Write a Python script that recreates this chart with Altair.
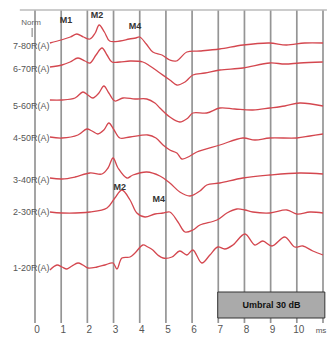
import altair as alt
import pandas as pd

# ---- data ----
# time in ms, amplitude in arbitrary display units (traces stacked by intensity)
T80 = [0.57,1.0,1.35,1.6,1.85,2.1,2.3,2.45,2.65,2.85,3.25,3.6,3.85,4.0,4.25,4.5,4.85,5.15,5.4,5.8,6.3,7.05,7.95,8.95,9.6,10.3,11.0]
A80 = [280,283,286,289,286,284,290,298,291,282,282,284,285,286,279,271,268,263,262,271,272,274,278,280,278,280,280]

T70 = [0.57,1.03,1.34,1.64,1.91,2.10,2.33,2.56,2.75,2.94,3.24,3.63,4.12,4.39,4.77,5.15,5.42,5.73,6.03,6.49,7.06,7.94,8.97,9.54,10.11,10.99]
A70 = [256,258,261,265,262,260,268,275,268,261,261,262,261,257,250,243,238,241,248,250,253,255,260,259,260,261]

T60 = [0.57,1.03,1.53,1.83,2.02,2.21,2.44,2.63,2.82,3.05,3.36,3.82,4.27,4.58,4.77,5.15,5.53,5.84,6.03,6.56,7.06,7.63,8.32,8.97,9.54,10.11,11.0]
A60 = [223,223,225,231,228,225,230,237,230,222,225,224,224,220,215,206,201,205,210,210,215,214,213,215,217,220,217]

T50 = [0.57,1.03,1.64,1.98,2.18,2.40,2.63,2.82,3.02,3.24,3.63,4.31,4.62,4.89,5.15,5.42,5.61,5.92,6.18,7.06,7.94,8.40,8.97,10.0,10.5,11.0]
A50 = [186,185,188,194,192,189,193,200,193,185,186,188,185,178,173,170,164,167,171,178,185,183,185,185,187,189]

T40 = [0.57,1.03,1.53,2.10,2.56,2.79,2.98,3.17,3.51,3.74,4.27,4.77,5.15,5.53,5.92,6.30,6.56,7.06,7.94,8.97,10.11,11.0]
A40 = [145,144,146,150,149,155,165,155,145,148,151,147,140,131,127,132,138,140,145,148,150,149]

T30 = [0.57,1.03,2.10,2.75,3.05,3.32,3.63,3.89,4.20,4.58,4.89,5.15,5.46,5.73,6.03,6.30,6.95,7.33,7.71,8.02,8.32,8.97,9.62,10.0,10.5,11.0]
A30 = [111,110,111,115,125,133,123,110,106,109,110,111,101,91,93,98,103,110,114,113,111,110,113,109,111,110]

T20 = [0.57,0.84,1.03,1.22,1.41,1.64,1.83,2.02,2.37,2.67,2.98,3.13,3.32,3.63,3.82,4.12,4.31,4.50,4.69,4.89,5.23,5.53,5.80,6.03,6.37,6.68,6.98,7.25,7.56,8.02,8.40,8.70,9.05,9.54,9.92,10.23,10.61,11.0]
A20 = [53,58,56,54,57,60,58,55,56,58,60,54,65,66,70,78,76,73,68,65,66,72,68,73,60,68,76,74,78,89,78,82,77,86,76,77,72,68]

TRACE_NAMES = ["7-80R(A)", "6-70R(A)", "5-60R(A)", "4-50R(A)", "3-40R(A)", "2-30R(A)", "1-20R(A)"]
TRACE_T = [T80, T70, T60, T50, T40, T30, T20]
TRACE_A = [A80, A70, A60, A50, A40, A30, A20]
LABEL_Y = [277, 254, 217, 185, 143, 111, 55]

PEAK_TEXT = ["M1", "M2", "M4", "M2", "M4"]
PEAK_T = [1.18, 2.37, 3.82, 3.24, 4.73]
PEAK_A = [303, 308, 297, 136, 124]

X_TICKS = list(range(0, 11))
GRID_X = list(range(0, 12))

BOX_TEXT = "Umbral 30 dB"

# ---- tables ----
rows = []
for name, ts, As in zip(TRACE_NAMES, TRACE_T, TRACE_A):
    for i, (t, a) in enumerate(zip(ts, As)):
        rows.append({"trace": name, "t": t, "a": a, "i": i})
traces = pd.DataFrame(rows)
labels = pd.DataFrame({"name": TRACE_NAMES, "t": [0.55] * 7, "a": LABEL_Y})
peaks = pd.DataFrame({"txt": PEAK_TEXT, "t": PEAK_T, "a": PEAK_A})
grid = pd.DataFrame({"x": GRID_X, "y0": [0] * 12, "y1": [313] * 12})
ticks = pd.DataFrame({"t": X_TICKS, "a": [-7] * len(X_TICKS), "txt": [str(v) for v in X_TICKS]})

xs = alt.Scale(domain=[0, 11], nice=False, zero=False)
ys = alt.Scale(domain=[0, 313], nice=False, zero=False)


def X(f):
    return alt.X(f, scale=xs, axis=None)


def Y(f):
    return alt.Y(f, scale=ys, axis=None)


gridlines = alt.Chart(grid).mark_rule(color="#959595", strokeWidth=1.7).encode(
    x=X("x:Q"), y=Y("y0:Q"), y2="y1:Q")

topline = alt.Chart(pd.DataFrame({"x": [-0.58], "x2": [11.15], "y": [313]})).mark_rule(
    color="#bbbbbb", strokeWidth=1.5).encode(x=X("x:Q"), x2="x2:Q", y=Y("y:Q"))

lines = alt.Chart(traces).mark_line(color="#d4474f", strokeWidth=1.3, interpolate="catmull-rom").encode(
    x=X("t:Q"), y=Y("a:Q"), detail="trace:N", order="i:Q")

tick_text = alt.Chart(ticks).mark_text(align="center", baseline="middle", fontSize=10, dx=2,
                                       font="Liberation Sans", color="#555555").encode(
    x=X("t:Q"), y=Y("a:Q"), text="txt:N")

label_text = alt.Chart(labels).mark_text(align="right", baseline="middle", fontSize=9,
                                         font="Liberation Sans", color="#555555").encode(
    x=X("t:Q"), y=Y("a:Q"), text="name:N")

peak_text = alt.Chart(peaks).mark_text(align="center", baseline="middle", fontSize=9,
                                       font="Liberation Sans", fontWeight="bold", color="#333333").encode(
    x=X("t:Q"), y=Y("a:Q"), text="txt:N")

norm = alt.Chart(pd.DataFrame({"t": [-0.15], "a": [300], "txt": ["Norm"]})).mark_text(
    align="center", baseline="middle", fontSize=8, font="Liberation Sans", color="#666666").encode(
    x=X("t:Q"), y=Y("a:Q"), text="txt:N")

norm_arrow = alt.Chart(pd.DataFrame({"t": [-0.11], "a": [295], "a2": [286]})).mark_rule(
    color="#777777", strokeWidth=1).encode(x=X("t:Q"), y=Y("a:Q"), y2="a2:Q")

ms = alt.Chart(pd.DataFrame({"t": [10.72], "a": [-8], "txt": ["ms"]})).mark_text(
    align="left", baseline="middle", fontSize=8, font="Liberation Sans", color="#555555").encode(
    x=X("t:Q"), y=Y("a:Q"), text="txt:N")

box = alt.Chart(pd.DataFrame({"t": [6.98], "t2": [11.07], "a": [31], "a2": [5]})).mark_rect(
    fill="#aaaaaa", stroke="#333333", strokeWidth=1).encode(
    x=X("t:Q"), x2="t2:Q", y=Y("a:Q"), y2="a2:Q")

box_text = alt.Chart(pd.DataFrame({"t": [9.03], "a": [18], "txt": [BOX_TEXT]})).mark_text(
    align="center", baseline="middle", fontSize=9, font="Liberation Sans", fontWeight="bold",
    color="#111111").encode(x=X("t:Q"), y=Y("a:Q"), text="txt:N")

chart = alt.layer(gridlines, topline, lines, tick_text, label_text, peak_text, norm, norm_arrow,
                  ms, box, box_text).properties(
    width=288, height=313,
    padding={"left": 27, "top": 2, "right": 5, "bottom": 14},
    autosize=alt.AutoSizeParams(type="none"),
    background="white",
).configure_view(stroke=None)

chart.save("out.html", embed_options={"renderer": "svg", "actions": False})
